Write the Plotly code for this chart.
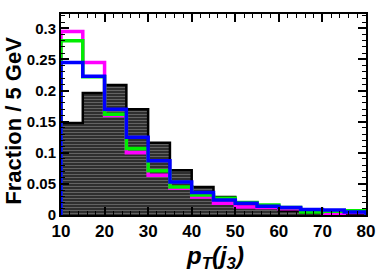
import plotly.graph_objects as go

bin_edges = [10, 15, 20, 25, 30, 35, 40, 45, 50, 55, 60, 65, 70, 75, 80]
black_vals = [0.148, 0.196, 0.209, 0.170, 0.116, 0.072, 0.045, 0.029, 0.018, 0.012, 0.007, 0.004, 0.002, 0.001]
blue_vals = [0.245, 0.223, 0.170, 0.125, 0.087, 0.053, 0.036, 0.024, 0.019, 0.014, 0.012, 0.009, 0.008, 0.005]
green_vals = [0.280, 0.222, 0.162, 0.107, 0.071, 0.045, 0.032, 0.027, 0.020, 0.016, 0.012, 0.005, 0.006, 0.007]
magenta_vals = [0.295, 0.245, 0.160, 0.100, 0.064, 0.043, 0.029, 0.019, 0.013, 0.012, 0.010, 0.008, 0.002, 0.004]
x_ticks = [10, 20, 30, 40, 50, 60, 70, 80]
y_ticks = [0, 0.05, 0.1, 0.15, 0.2, 0.25, 0.3]
y_tick_labels = ["0", "0.05", "0.1", "0.15", "0.2", "0.25", "0.3"]

centers = [(a + b) / 2 for a, b in zip(bin_edges[:-1], bin_edges[1:])]

fig = go.Figure()
fig.add_trace(go.Bar(
    x=centers, y=black_vals, width=5,
    marker=dict(color="#1e1e1e",
                line=dict(color="#1e1e1e", width=0),
                pattern=dict(shape="-", fgcolor="#a8a8a8", bgcolor="#1e1e1e", size=3, solidity=0.5)),
    showlegend=False, hoverinfo="skip"))

def step(vals):
    xs = [bin_edges[0]] + bin_edges[:-1] + [bin_edges[-1], bin_edges[-1]]
    ys = [0] + vals + [vals[-1], 0]
    return xs, ys

for vals, col, w in [(black_vals, "black", 2.5), (magenta_vals, "#ff00ff", 3.5),
                     (green_vals, "#00ee00", 3.5), (blue_vals, "#0000ff", 3.5)]:
    xs, ys = step(vals)
    fig.add_trace(go.Scatter(x=xs, y=ys, mode="lines",
                             line=dict(color=col, width=w, shape="hv"),
                             showlegend=False, hoverinfo="skip"))

font_x = dict(family="Liberation Sans, Arial", size=17, color="black", weight="bold")
font_y = dict(family="Liberation Sans, Arial", size=15, color="black", weight="bold")

fig.update_layout(
    width=382, height=273,
    margin=dict(l=61, r=16, t=14, b=58),
    paper_bgcolor="white", plot_bgcolor="white",
    bargap=0,
    xaxis=dict(range=[10, 80], tickvals=x_ticks, ticktext=[str(v) for v in x_ticks],
               ticks="inside", ticklen=8, tickwidth=1.5, tickcolor="black",
               minor=dict(dtick=2, ticks="inside", ticklen=4, tickcolor="black", tickwidth=1),
               showline=True, linecolor="black", linewidth=2, mirror="allticks",
               showgrid=False, zeroline=False, tickfont=font_x, automargin=False,
               ticklabelstandoff=0),
    yaxis=dict(range=[0, 0.323], tickvals=y_ticks, ticktext=y_tick_labels,
               ticks="inside", ticklen=8, tickwidth=1.5, tickcolor="black",
               minor=dict(dtick=0.01, ticks="inside", ticklen=4, tickcolor="black", tickwidth=1),
               showline=True, linecolor="black", linewidth=2, mirror="allticks",
               showgrid=False, zeroline=False, tickfont=font_y, automargin=False,
               ticklabelstandoff=0),
    annotations=[
        dict(text="<b><i>p<sub>T</sub>(j<sub>3</sub>)</i></b>", xref="paper", yref="paper",
             x=0.505, y=-0.21, xanchor="center", yanchor="middle", showarrow=False,
             font=dict(family="Liberation Sans, Arial", size=24, color="black")),
        dict(text="<b>Fraction / 5 GeV</b>", xref="paper", yref="paper",
             x=-0.157, y=0.47, xanchor="center", yanchor="middle", textangle=-90, showarrow=False,
             font=dict(family="Liberation Sans, Arial", size=22, color="black")),
    ],
)

fig.write_html("out.html", config={"displayModeBar": False},
               post_script="document.body.style.margin='0';document.body.style.padding='0';")
